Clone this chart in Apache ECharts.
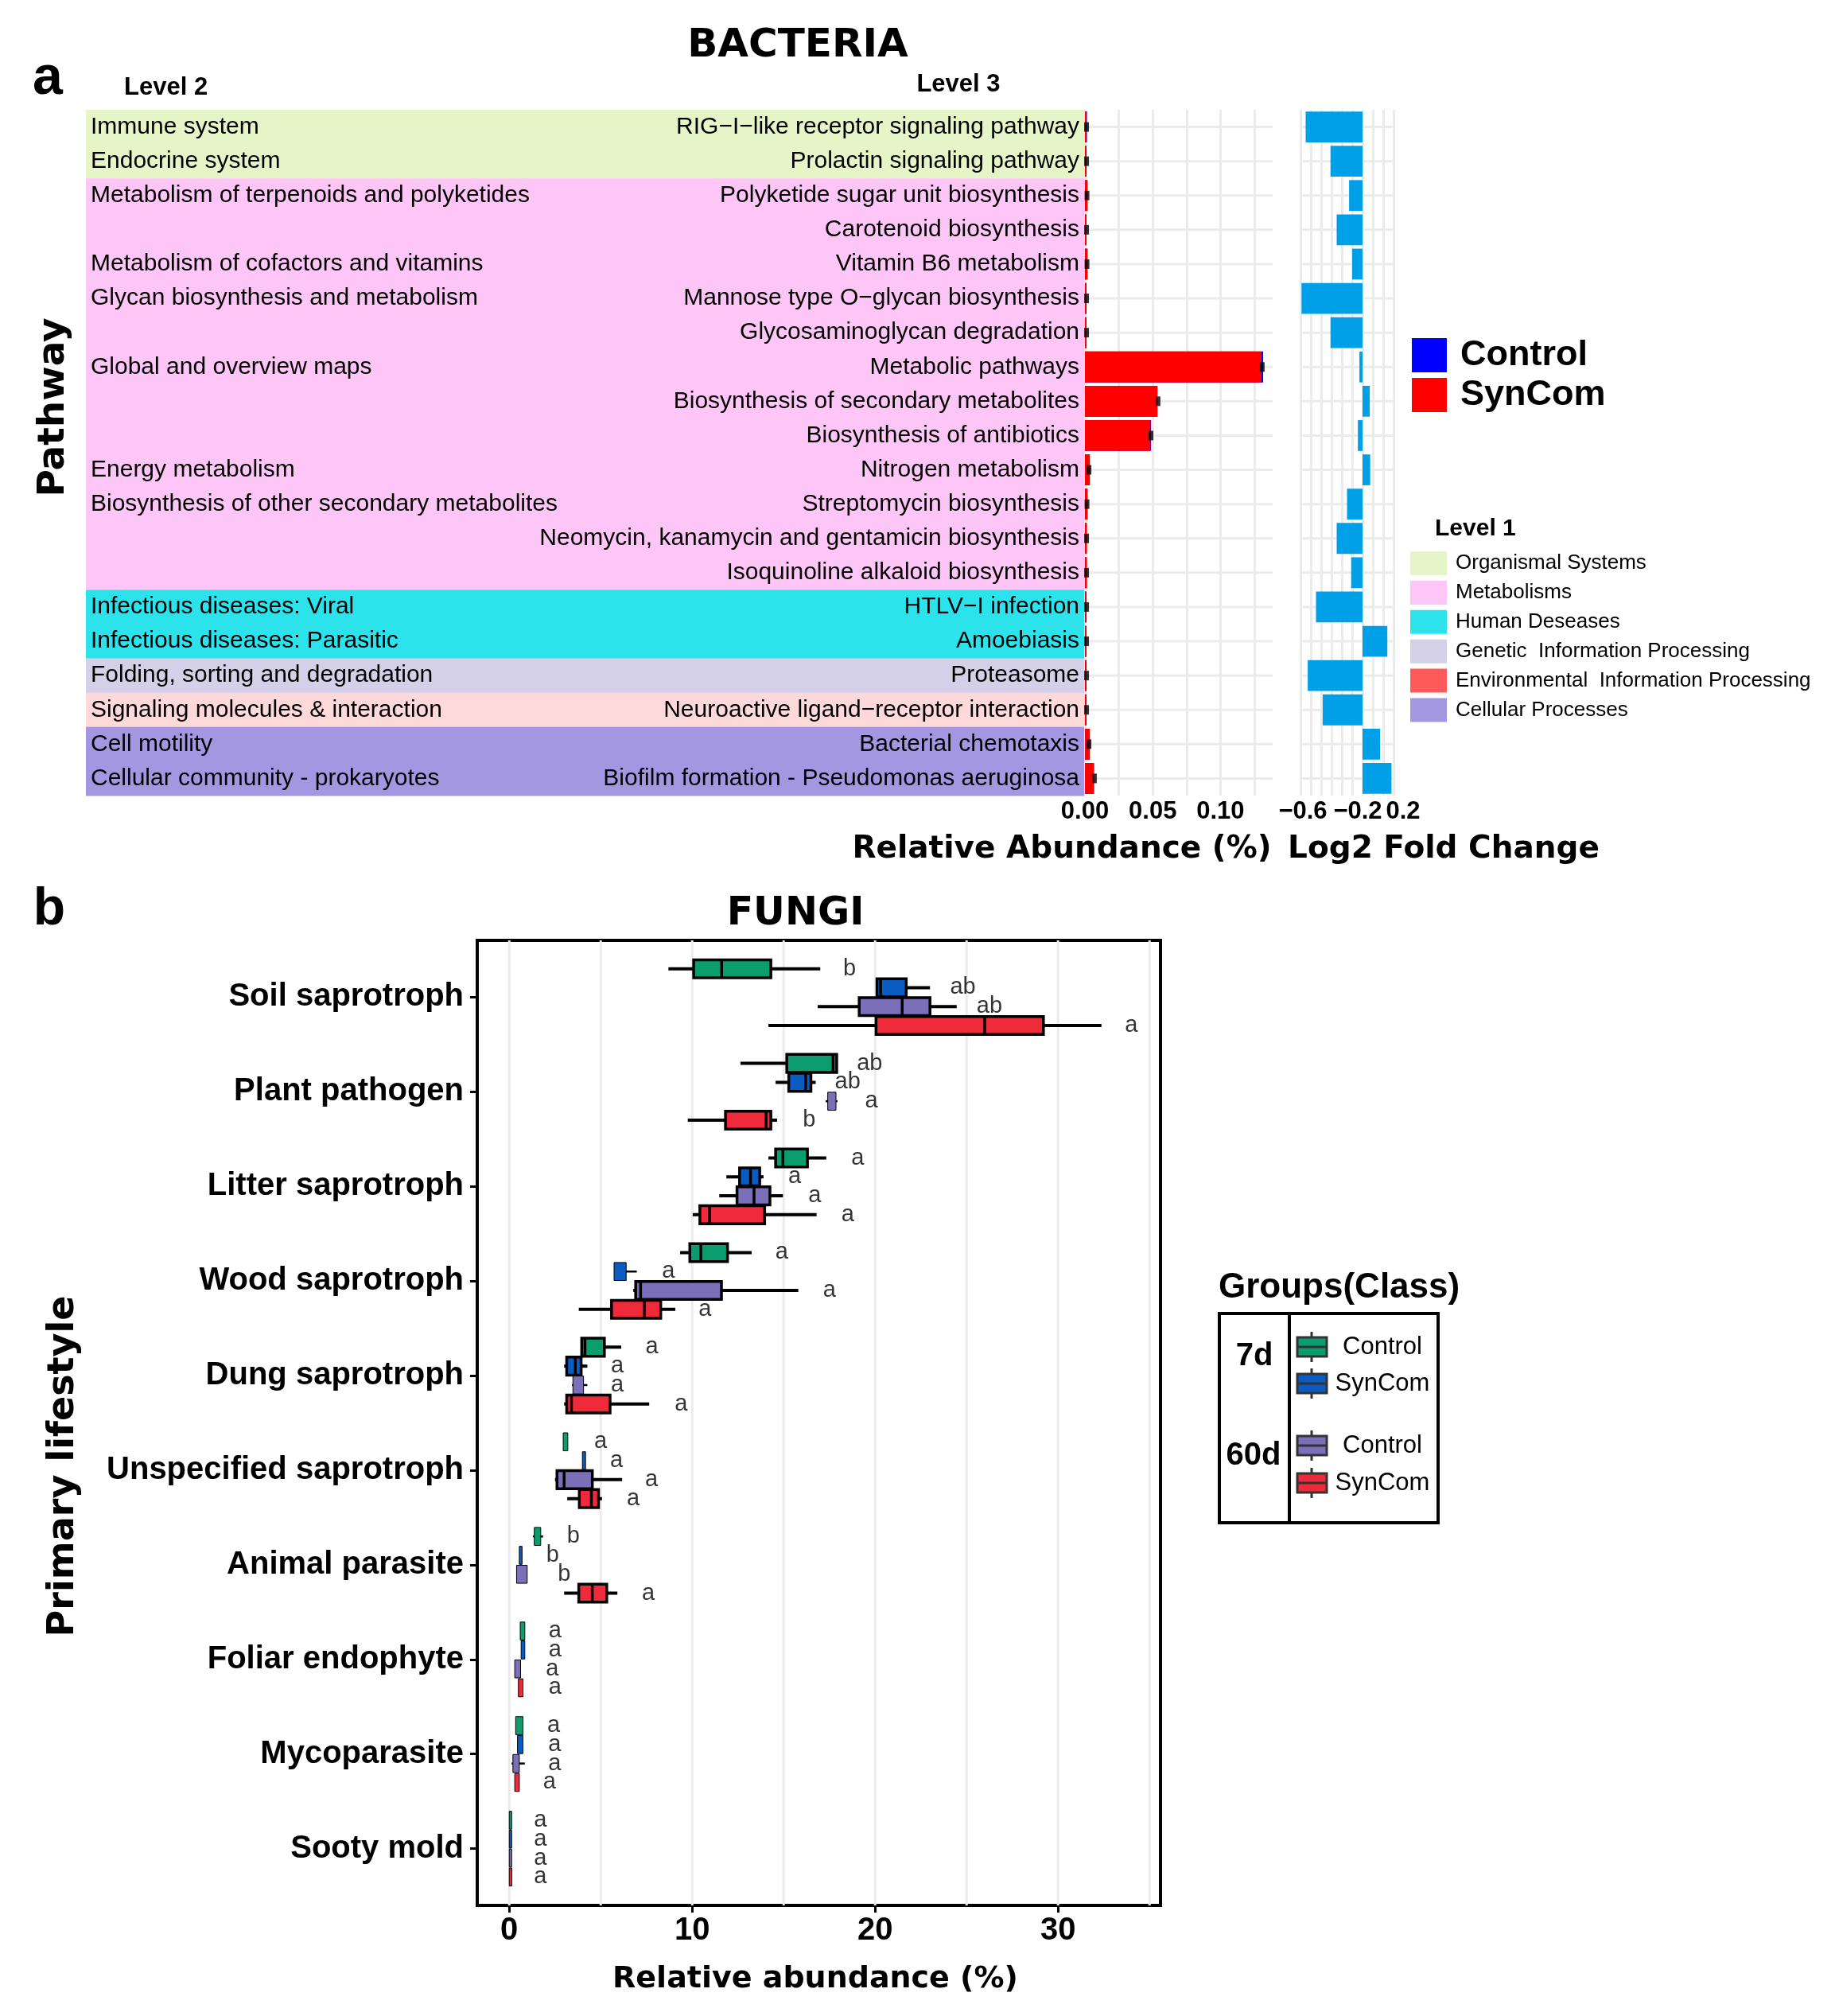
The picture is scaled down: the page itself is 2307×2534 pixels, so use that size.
<!DOCTYPE html>
<html>
<head>
<meta charset="utf-8">
<script src="https://cdn.jsdelivr.net/npm/echarts@6/dist/echarts.min.js"></script>
<style>
html,body{margin:0;padding:0;background:#fff;}
#chart{width:2307px;height:2534px;}
</style>
</head>
<body>
<div id="chart"></div>
<script>
// ---------------- Panel a data ----------------
const level1Names = ['Organismal Systems', 'Metabolisms', 'Human Deseases', 'Genetic  Information Processing', 'Environmental  Information Processing', 'Cellular Processes'];
const level1Colors = ['#E6F5C8', '#FDC6F6', '#2CE3EC', '#D4D0E8', '#FF5A5A', '#A397E2'];
const level1BandColors = ['#E6F5C8', '#FDC6F6', '#2CE3EC', '#D4D0E8', '#FDD9DA', '#A397E2'];
const rowLevel1 = [0, 0, 1, 1, 1, 1, 1, 1, 1, 1, 1, 1, 1, 1, 2, 2, 3, 4, 5, 5];
const level2Labels = [
  'Immune system', 'Endocrine system', 'Metabolism of terpenoids and polyketides', '',
  'Metabolism of cofactors and vitamins', 'Glycan biosynthesis and metabolism', '',
  'Global and overview maps', '', '', 'Energy metabolism',
  'Biosynthesis of other secondary metabolites', '', '',
  'Infectious diseases: Viral', 'Infectious diseases: Parasitic',
  'Folding, sorting and degradation', 'Signaling molecules & interaction',
  'Cell motility', 'Cellular community - prokaryotes'
];
const level3Labels = [
  'RIG\u2212I\u2212like receptor signaling pathway', 'Prolactin signaling pathway',
  'Polyketide sugar unit biosynthesis', 'Carotenoid biosynthesis', 'Vitamin B6 metabolism',
  'Mannose type O\u2212glycan biosynthesis', 'Glycosaminoglycan degradation', 'Metabolic pathways',
  'Biosynthesis of secondary metabolites', 'Biosynthesis of antibiotics', 'Nitrogen metabolism',
  'Streptomycin biosynthesis', 'Neomycin, kanamycin and gentamicin biosynthesis',
  'Isoquinoline alkaloid biosynthesis', 'HTLV\u2212I infection', 'Amoebiasis', 'Proteasome',
  'Neuroactive ligand\u2212receptor interaction', 'Bacterial chemotaxis',
  'Biofilm formation - Pseudomonas aeruginosa'
];
const abundanceControl = [0.0015, 0.0012, 0.0015, 0.0012, 0.0015, 0.0012, 0.0010, 0.1315, 0.0532, 0.0488, 0.0035, 0.0018, 0.0012, 0.0012, 0.0012, 0.0010, 0.0012, 0.0012, 0.0035, 0.0065];
const abundanceSynCom  = [0.0012, 0.0010, 0.0020, 0.0012, 0.0020, 0.0010, 0.0012, 0.1303, 0.0536, 0.0484, 0.0037, 0.0020, 0.0015, 0.0015, 0.0010, 0.0012, 0.0010, 0.0010, 0.0037, 0.0068];
const abundanceErr     = [0.0012, 0.0012, 0.0015, 0.0012, 0.0015, 0.0012, 0.0012, 0.1308, 0.0539, 0.0487, 0.0030, 0.0015, 0.0012, 0.0012, 0.0012, 0.0012, 0.0012, 0.0012, 0.0030, 0.0070];
const log2FoldChange   = [-0.55, -0.31, -0.13, -0.25, -0.10, -0.59, -0.31, -0.03, 0.07, -0.045, 0.074, -0.15, -0.25, -0.11, -0.45, 0.24, -0.53, -0.385, 0.17, 0.28];
const abundanceTickLabels = [0, 0.05, 0.10];
const log2TickLabels = [-0.6, -0.2, 0.2];

// ---------------- Panel b data ----------------
const fungiCategories = ['Soil saprotroph', 'Plant pathogen', 'Litter saprotroph', 'Wood saprotroph', 'Dung saprotroph', 'Unspecified saprotroph', 'Animal parasite', 'Foliar endophyte', 'Mycoparasite', 'Sooty mold'];
const fungiGroups = ['7d Control', '7d SynCom', '60d Control', '60d SynCom'];
const fungiGroupShort = ['Control', 'SynCom', 'Control', 'SynCom'];
const fungiGroupColors = ['#0C9D6F', '#0A5BC2', '#7A6FB8', '#EF2A3A'];
// [lower whisker, Q1, median, Q3, upper whisker]
const box7dControl = [
  [8.7, 10.08, 11.61, 14.3, 17.0], [12.64, 15.17, 17.7, 17.9, 17.9], [14.17, 14.56, 14.96, 16.3, 17.33],
  [9.34, 9.87, 10.47, 11.93, 13.25], [3.96, 3.96, 4.14, 5.2, 6.12], [2.9, 2.95, 3.0, 3.2, 3.2],
  [1.29, 1.37, 1.6, 1.72, 1.85], [0.5, 0.6, 0.75, 0.85, 0.9], [0.26, 0.35, 0.5, 0.75, 0.77],
  [0.0, 0.0, 0.05, 0.12, 0.14]
];
const box7dSynCom = [
  [20.1, 20.1, 20.3, 21.7, 23.0], [14.56, 15.28, 16.2, 16.49, 16.75], [11.87, 12.59, 13.19, 13.69, 13.9],
  [5.73, 5.73, 6.0, 6.39, 6.97], [3.0, 3.14, 3.61, 3.93, 4.27], [4.0, 4.0, 4.1, 4.17, 4.17],
  [0.53, 0.55, 0.6, 0.7, 0.74], [0.6, 0.65, 0.75, 0.85, 0.9], [0.4, 0.45, 0.6, 0.75, 0.8],
  [0.0, 0.0, 0.05, 0.12, 0.14]
];
const box60dControl = [
  [16.86, 19.13, 21.48, 23.0, 24.46], [17.3, 17.41, 17.6, 17.86, 17.94], [11.48, 12.45, 13.38, 14.25, 14.96],
  [6.78, 6.91, 7.18, 11.6, 15.8], [3.43, 3.48, 3.75, 4.06, 4.27], [2.5, 2.61, 3.0, 4.54, 6.17],
  [0.4, 0.4, 0.6, 0.98, 1.1], [0.26, 0.3, 0.45, 0.62, 0.66], [0.13, 0.2, 0.35, 0.55, 0.85],
  [0.0, 0.0, 0.03, 0.08, 0.1]
];
const box60dSynCom = [
  [14.17, 20.05, 25.99, 29.2, 32.37], [9.76, 11.82, 14.04, 14.3, 14.64], [10.03, 10.42, 10.95, 13.96, 16.8],
  [3.8, 5.59, 7.39, 8.28, 9.08], [3.0, 3.14, 3.4, 5.51, 7.65], [3.17, 3.83, 4.49, 4.88, 5.07],
  [3.0, 3.8, 4.54, 5.33, 5.91], [0.45, 0.5, 0.6, 0.75, 0.8], [0.24, 0.3, 0.4, 0.55, 0.58],
  [0.0, 0.0, 0.06, 0.14, 0.16]
];
const letters7dControl = ['b', 'ab', 'a', 'a', 'a', 'a', 'b', 'a', 'a', 'a'];
const letters7dSynCom = ['ab', 'ab', 'a', 'a', 'a', 'a', 'b', 'a', 'a', 'a'];
const letters60dControl = ['ab', 'a', 'a', 'a', 'a', 'a', 'b', 'a', 'a', 'a'];
const letters60dSynCom = ['a', 'b', 'a', 'a', 'a', 'a', 'a', 'a', 'a', 'a'];
const letterX7dControl = [18.6, 19.7, 19.05, 14.9, 7.8, 4.99, 3.5, 2.5, 2.43, 1.7];
const letterX7dSynCom = [24.8, 18.5, 15.6, 8.7, 5.9, 5.86, 2.37, 2.5, 2.48, 1.7];
const letterX60dControl = [26.25, 19.8, 16.7, 17.5, 5.9, 7.78, 3.0, 2.35, 2.48, 1.7];
const letterX60dSynCom = [34.0, 16.4, 18.5, 10.7, 9.4, 6.78, 7.6, 2.5, 2.2, 1.7];
const fungiTickValues = [0, 10, 20, 30];
const fungiGridValues = [0, 5, 10, 15, 20, 25, 30, 35];

// ---------------- build ----------------
const SANS = '"Liberation Sans", Arial, sans-serif';
const SANS_FAMILY = 'Liberation Sans';
const WIDE = '"DejaVu Sans", sans-serif';
const GRID_GRAY = '#EBEBEB';
const fungiBoxes = [box7dControl, box7dSynCom, box60dControl, box60dSynCom];
const fungiLetters = [letters7dControl, letters7dSynCom, letters60dControl, letters60dSynCom];
const fungiLetterX = [letterX7dControl, letterX7dSynCom, letterX60dControl, letterX60dSynCom];
const groupOffsets = [-0.3, -0.1, 0.1, 0.3];
const rowIdx = level3Labels.map((_, i) => i);

function near(v, arr) { return arr.some(a => Math.abs(a - v) < 1e-6); }

function hGridRender(params, api) {
  const y = api.coord([api.value(0), api.value(1)])[1];
  const cs = params.coordSys;
  return { type: 'line', shape: { x1: cs.x, y1: y, x2: cs.x + cs.width, y2: y }, style: { stroke: GRID_GRAY, lineWidth: 3 } };
}

const series = [];

// bands with Level 2 / Level 3 labels
series.push({
  type: 'custom', xAxisIndex: 0, yAxisIndex: 0, z: 1, silent: true,
  data: rowIdx.map(i => [0, i]),
  encode: { x: 0, y: 1 },
  renderItem: function (params, api) {
    const i = api.value(1);
    const p0 = api.coord([0, i]);
    const p1 = api.coord([1, i]);
    const h = Math.abs(api.size([0, 1])[1]);
    return {
      type: 'group', children: [
        { type: 'rect', shape: { x: p0[0], y: p0[1] - h / 2, width: p1[0] - p0[0], height: h + 0.6 }, style: { fill: level1BandColors[rowLevel1[i]] } },
        { type: 'text', style: { text: level2Labels[i], x: p0[0] + 6, y: p0[1], align: 'left', verticalAlign: 'middle', font: '30px ' + SANS, fill: '#000' } },
        { type: 'text', style: { text: level3Labels[i], x: p1[0] - 6, y: p0[1], align: 'right', verticalAlign: 'middle', font: '30px ' + SANS, fill: '#000' } }
      ]
    };
  }
});

// abundance panel
series.push({ type: 'custom', xAxisIndex: 1, yAxisIndex: 1, z: 1, silent: true, data: rowIdx.map(i => [0, i]), encode: { x: 0, y: 1 }, renderItem: hGridRender });
series.push({ name: 'Control', type: 'bar', xAxisIndex: 1, yAxisIndex: 1, z: 2, data: abundanceControl, barCategoryGap: '10%', barGap: '-100%', itemStyle: { color: '#0000FF' } });
series.push({ name: 'SynCom', type: 'bar', xAxisIndex: 1, yAxisIndex: 1, z: 3, data: abundanceSynCom, barCategoryGap: '10%', barGap: '-100%', itemStyle: { color: '#FF0000' } });
series.push({ type: 'scatter', xAxisIndex: 1, yAxisIndex: 1, z: 4, silent: true, symbol: 'rect', symbolSize: [6, 12], itemStyle: { color: '#000' }, data: abundanceErr.map((v, i) => [v, i]) });

// log2 fold change panel
series.push({ type: 'custom', xAxisIndex: 2, yAxisIndex: 2, z: 1, silent: true, data: rowIdx.map(i => [0, i]), encode: { x: 0, y: 1 }, renderItem: hGridRender });
series.push({ type: 'bar', xAxisIndex: 2, yAxisIndex: 2, z: 2, data: log2FoldChange, barCategoryGap: '10%', itemStyle: { color: '#00A0E9' } });

// fungi gridlines
series.push({
  type: 'custom', xAxisIndex: 3, yAxisIndex: 3, z: 1, silent: true,
  data: fungiGridValues.map(v => [v, 0]), encode: { x: 0, y: 1 },
  renderItem: function (params, api) {
    const x = api.coord([api.value(0), 0])[0];
    const cs = params.coordSys;
    return { type: 'line', shape: { x1: x, y1: cs.y, x2: x, y2: cs.y + cs.height }, style: { stroke: GRID_GRAY, lineWidth: 3 } };
  }
});

// fungi boxes
fungiGroups.forEach((gname, g) => {
  series.push({
    name: gname, type: 'custom', xAxisIndex: 3, yAxisIndex: 3, z: 3, silent: true,
    data: fungiBoxes[g].map((b, c) => [c].concat(b)),
    encode: { x: [1, 2, 3, 4, 5], y: 0 },
    renderItem: function (params, api) {
      const y = api.value(0) + groupOffsets[g];
      const pWl = api.coord([api.value(1), y]);
      const pQ1 = api.coord([api.value(2), y]);
      const pMed = api.coord([api.value(3), y]);
      const pQ3 = api.coord([api.value(4), y]);
      const pWh = api.coord([api.value(5), y]);
      const h = Math.abs(api.size([0, 0.19])[1]);
      const yc = pQ1[1];
      const w = pQ3[0] - pQ1[0];
      const thin = w < 16;
      const lw = thin ? 1 : 3.5;
      const children = [];
      if (!thin || pWh[0] - pWl[0] > w + 4) {
        children.push({ type: 'line', shape: { x1: pWl[0], y1: yc, x2: pWh[0], y2: yc }, style: { stroke: '#000', lineWidth: thin ? 2.5 : 4 } });
      }
      children.push({ type: 'rect', shape: { x: pQ1[0], y: yc - h / 2, width: Math.max(w, 3), height: h }, style: { fill: fungiGroupColors[g], stroke: '#000', lineWidth: lw } });
      if (!thin) {
        children.push({ type: 'line', shape: { x1: pMed[0], y1: yc - h / 2, x2: pMed[0], y2: yc + h / 2 }, style: { stroke: '#000', lineWidth: 3.5 } });
      }
      return { type: 'group', children: children };
    }
  });
});

// significance letters
fungiGroups.forEach((gname, g) => {
  series.push({
    type: 'scatter', xAxisIndex: 3, yAxisIndex: 3, z: 4, silent: true,
    symbolSize: 1, itemStyle: { color: 'rgba(0,0,0,0)' },
    data: fungiLetterX[g].map((x, c) => [x, c + groupOffsets[g]]),
    label: { show: true, position: 'inside', formatter: p => fungiLetters[g][p.dataIndex], fontFamily: SANS_FAMILY, fontSize: 29, color: '#000' }
  });
});

// ---------------- graphic (titles, legends) ----------------
const graphic = [];
function txt(text, x, y, font, align, rot) {
  const el = { type: 'text', x: x, y: y, silent: true, style: { text: text, x: 0, y: 0, font: font, fill: '#000', align: align || 'center', verticalAlign: 'middle' } };
  if (rot) el.rotation = rot;
  graphic.push(el);
}
txt('BACTERIA', 1003, 58, 'bold 50px ' + WIDE);
txt('a', 60, 99, 'bold 68px ' + SANS);
txt('Level 2', 156, 110, 'bold 31px ' + SANS, 'left');
txt('Level 3', 1205, 106, 'bold 31px ' + SANS);
txt('Pathway', 68, 512, 'bold 47px ' + WIDE, 'center', Math.PI / 2);
txt('Relative Abundance (%)', 1335, 1068, 'bold 39px ' + WIDE);
txt('Log2 Fold Change', 1815, 1068, 'bold 39px ' + WIDE);
txt('Level 1', 1804, 665, 'bold 30px ' + SANS, 'left');
level1Names.forEach((n, i) => {
  const yc = 708 + i * 36.9;
  graphic.push({ type: 'rect', silent: true, shape: { x: 1773, y: yc - 15, width: 46, height: 30 }, style: { fill: level1Colors[i] } });
  txt(n, 1830, yc, '26px ' + SANS, 'left');
});
txt('b', 62, 1144, 'bold 66px ' + SANS);
txt('FUNGI', 1000, 1149, 'bold 49px ' + WIDE);
txt('Primary lifestyle', 80, 1843, 'bold 46px ' + WIDE, 'center', Math.PI / 2);
txt('Relative abundance (%)', 1025, 2488, 'bold 38px ' + WIDE);
txt('Groups(Class)', 1532, 1619, 'bold 44px ' + SANS, 'left');
graphic.push({ type: 'rect', silent: true, shape: { x: 1533, y: 1651, width: 275, height: 263 }, style: { fill: 'none', stroke: '#000', lineWidth: 4 } });
graphic.push({ type: 'line', silent: true, shape: { x1: 1621, y1: 1651, x2: 1621, y2: 1914 }, style: { stroke: '#000', lineWidth: 4 } });
txt('7d', 1577, 1705, 'bold 40px ' + SANS);
txt('60d', 1576, 1830, 'bold 40px ' + SANS);
const legendIconY = [1693, 1739, 1817, 1864];
fungiGroups.forEach((gname, g) => {
  const yc = legendIconY[g];
  graphic.push({ type: 'line', silent: true, shape: { x1: 1649, y1: yc - 19, x2: 1649, y2: yc + 19 }, style: { stroke: '#333', lineWidth: 3 } });
  graphic.push({ type: 'rect', silent: true, shape: { x: 1631, y: yc - 12, width: 37, height: 24 }, style: { fill: fungiGroupColors[g], stroke: '#333', lineWidth: 3 } });
  graphic.push({ type: 'line', silent: true, shape: { x1: 1631, y1: yc, x2: 1668, y2: yc }, style: { stroke: '#333', lineWidth: 3 } });
  txt(fungiGroupShort[g], 1738, yc, '31px ' + SANS);
});

const lfcRich = {
  l: { fontFamily: SANS_FAMILY, fontWeight: 'bold', fontSize: 31, color: '#000', padding: [0, 0, 0, 6] },
  m: { fontFamily: SANS_FAMILY, fontWeight: 'bold', fontSize: 31, color: '#000', padding: [0, 0, 0, 40] },
  r: { fontFamily: SANS_FAMILY, fontWeight: 'bold', fontSize: 31, color: '#000', padding: [0, 0, 0, 50] }
};

const option = {
  backgroundColor: '#fff',
  animation: false,
  legend: {
    data: ['Control', 'SynCom'], orient: 'vertical', left: 1775, top: 424, padding: 0,
    itemWidth: 44, itemHeight: 43, itemGap: 5, icon: 'rect', selectedMode: false,
    textStyle: { fontFamily: SANS_FAMILY, fontWeight: 'bold', fontSize: 45, color: '#000', padding: [0, 0, 0, 12] }
  },
  grid: [
    { left: 108, top: 138, width: 1255, height: 862 },
    { left: 1364, top: 138, width: 236, height: 862 },
    { left: 1635, top: 138, width: 117, height: 862 },
    { left: 600, top: 1182, width: 859, height: 1213, show: true, borderColor: '#000', borderWidth: 4, backgroundColor: 'rgba(0,0,0,0)' }
  ],
  xAxis: [
    { gridIndex: 0, type: 'value', min: 0, max: 1, show: false },
    {
      gridIndex: 1, type: 'value', min: 0, max: 0.1385, interval: 0.025,
      axisLine: { show: false }, axisTick: { show: false },
      splitLine: { show: true, showMaxLine: false, lineStyle: { color: GRID_GRAY, width: 3 } },
      axisLabel: { margin: 5, fontFamily: SANS_FAMILY, fontWeight: 'bold', fontSize: 31, color: '#000', formatter: v => near(v, abundanceTickLabels) ? v.toFixed(2) : '' }
    },
    {
      gridIndex: 2, type: 'value', min: -0.6, max: 0.3, interval: 0.1,
      axisLine: { show: false }, axisTick: { show: false },
      splitLine: { show: true, lineStyle: { color: GRID_GRAY, width: 3 } },
      axisLabel: {
        margin: 5, showMinLabel: true, rich: lfcRich, fontFamily: SANS_FAMILY, fontWeight: 'bold', fontSize: 31, color: '#000',
        formatter: v => {
          if (!near(v, log2TickLabels)) return '';
          const s = (v < 0 ? '\u2212' : '') + Math.abs(v).toFixed(1);
          const k = Math.abs(v + 0.6) < 1e-6 ? 'l' : (Math.abs(v + 0.2) < 1e-6 ? 'm' : 'r');
          return '{' + k + '|' + s + '}';
        }
      }
    },
    {
      gridIndex: 3, type: 'value', min: -1.75, max: 35.6,
      axisLine: { show: false, onZero: false }, splitLine: { show: false },
      axisTick: { show: true, customValues: fungiTickValues, length: 9, lineStyle: { color: '#000', width: 3 } },
      axisLabel: { customValues: fungiTickValues, margin: 12, fontFamily: SANS_FAMILY, fontWeight: 'bold', fontSize: 40, color: '#000' }
    }
  ],
  yAxis: [
    { gridIndex: 0, type: 'category', data: level3Labels, inverse: true, show: false },
    { gridIndex: 1, type: 'category', data: level3Labels, inverse: true, show: false },
    { gridIndex: 2, type: 'category', data: level3Labels, inverse: true, show: false },
    {
      gridIndex: 3, type: 'value', min: -0.6, max: 9.6, inverse: true,
      axisLine: { show: false, onZero: false }, splitLine: { show: false },
      axisTick: { show: true, customValues: fungiCategories.map((_, i) => i), length: 9, lineStyle: { color: '#000', width: 3 } },
      axisLabel: { customValues: fungiCategories.map((_, i) => i), margin: 17, fontFamily: SANS_FAMILY, fontWeight: 'bold', fontSize: 40, color: '#000', formatter: v => fungiCategories[Math.round(v)] || '' }
    }
  ],
  graphic: graphic,
  series: series
};

const chart = echarts.init(document.getElementById('chart'), null, { renderer: 'canvas' });
chart.setOption(option);
</script>
</body>
</html>
